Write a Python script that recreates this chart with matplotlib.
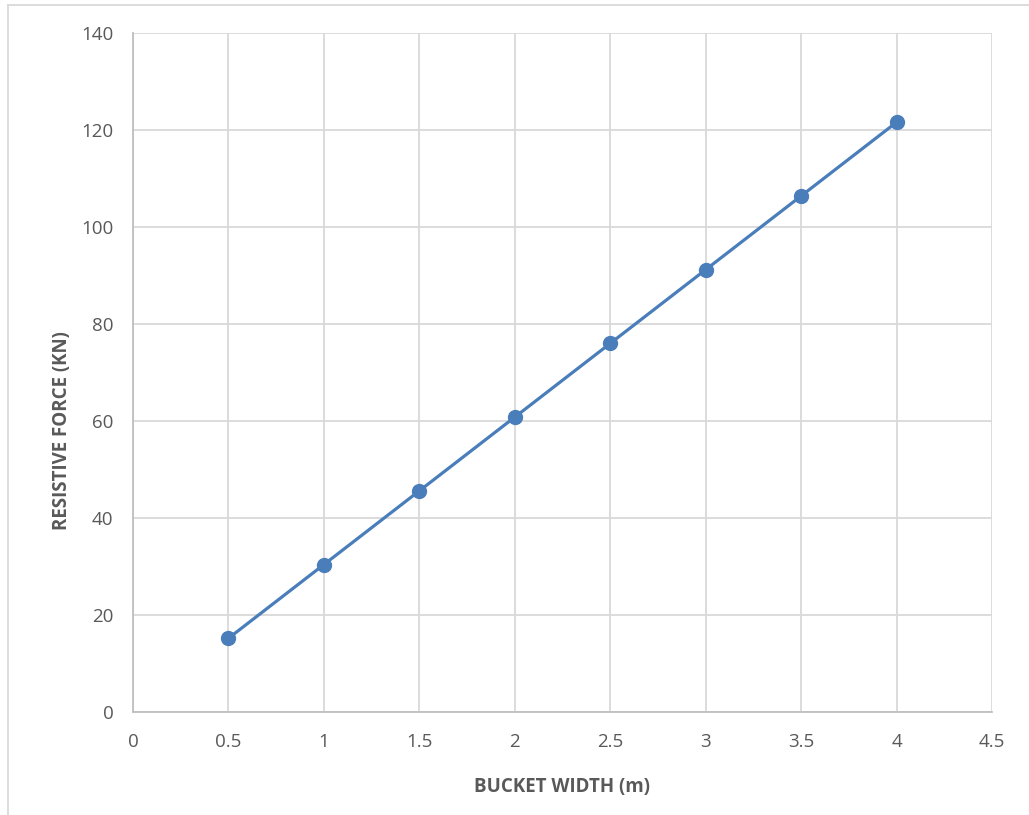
import matplotlib
matplotlib.use("Agg")
import matplotlib.pyplot as plt
from matplotlib.lines import Line2D

# Resistive force against bucket width
bucket_width = [0.5, 1.0, 1.5, 2.0, 2.5, 3.0, 3.5, 4.0]
resistive_force = [15.2, 30.4, 45.6, 60.8, 76.0, 91.2, 106.4, 121.6]

x_ticks = [0, 0.5, 1, 1.5, 2, 2.5, 3, 3.5, 4, 4.5]
x_tick_labels = ["0", "0.5", "1", "1.5", "2", "2.5", "3", "3.5", "4", "4.5"]
y_ticks = [0, 20, 40, 60, 80, 100, 120, 140]

plt.rcParams["font.family"] = ["Open Sans", "DejaVu Sans"]

W, H = 1029, 815
fig = plt.figure(figsize=(W / 100, H / 100), dpi=100)
ax = fig.add_axes([133 / W, 1 - 712 / H, (992 - 133) / W, (712 - 33) / H])

line_color = "#4a7ebb"
ax.plot(bucket_width, resistive_force, color=line_color, linewidth=2.3,
        marker="o", markersize=10, markerfacecolor=line_color,
        markeredgecolor=line_color, zorder=3)

ax.set_xlim(0, 4.5)
ax.set_ylim(0, 140)
ax.set_xticks(x_ticks)
ax.set_xticklabels(x_tick_labels)
ax.set_yticks(y_ticks)

ax.grid(True, color="#d9d9d9", linewidth=1.3)
ax.set_axisbelow(True)
for side in ("top", "right"):
    ax.spines[side].set_visible(False)
for side in ("left", "bottom"):
    ax.spines[side].set_color("#bfbfbf")
    ax.spines[side].set_linewidth(1.3)

ax.tick_params(axis="both", length=0, labelsize=13.5, colors="#595959")
ax.tick_params(axis="x", pad=15)
ax.tick_params(axis="y", pad=14)

ax.set_xlabel("BUCKET WIDTH (m)", fontsize=13.5, fontweight="bold",
              color="#595959", labelpad=19)
ax.set_ylabel("RESISTIVE FORCE (KN)", fontsize=13.5, fontweight="bold",
              color="#595959", labelpad=7)
ax.yaxis.label.set_y(0.415)

# Chart-area frame (top and left edges)
fig.add_artist(Line2D([8 / W, 1.0], [1 - 5 / H, 1 - 5 / H],
                      transform=fig.transFigure, color="#d9d9d9", linewidth=1.3))
fig.add_artist(Line2D([8 / W, 8 / W], [0.0, 1 - 5 / H],
                      transform=fig.transFigure, color="#d9d9d9", linewidth=1.3))

fig.savefig("out.png", dpi=100)
